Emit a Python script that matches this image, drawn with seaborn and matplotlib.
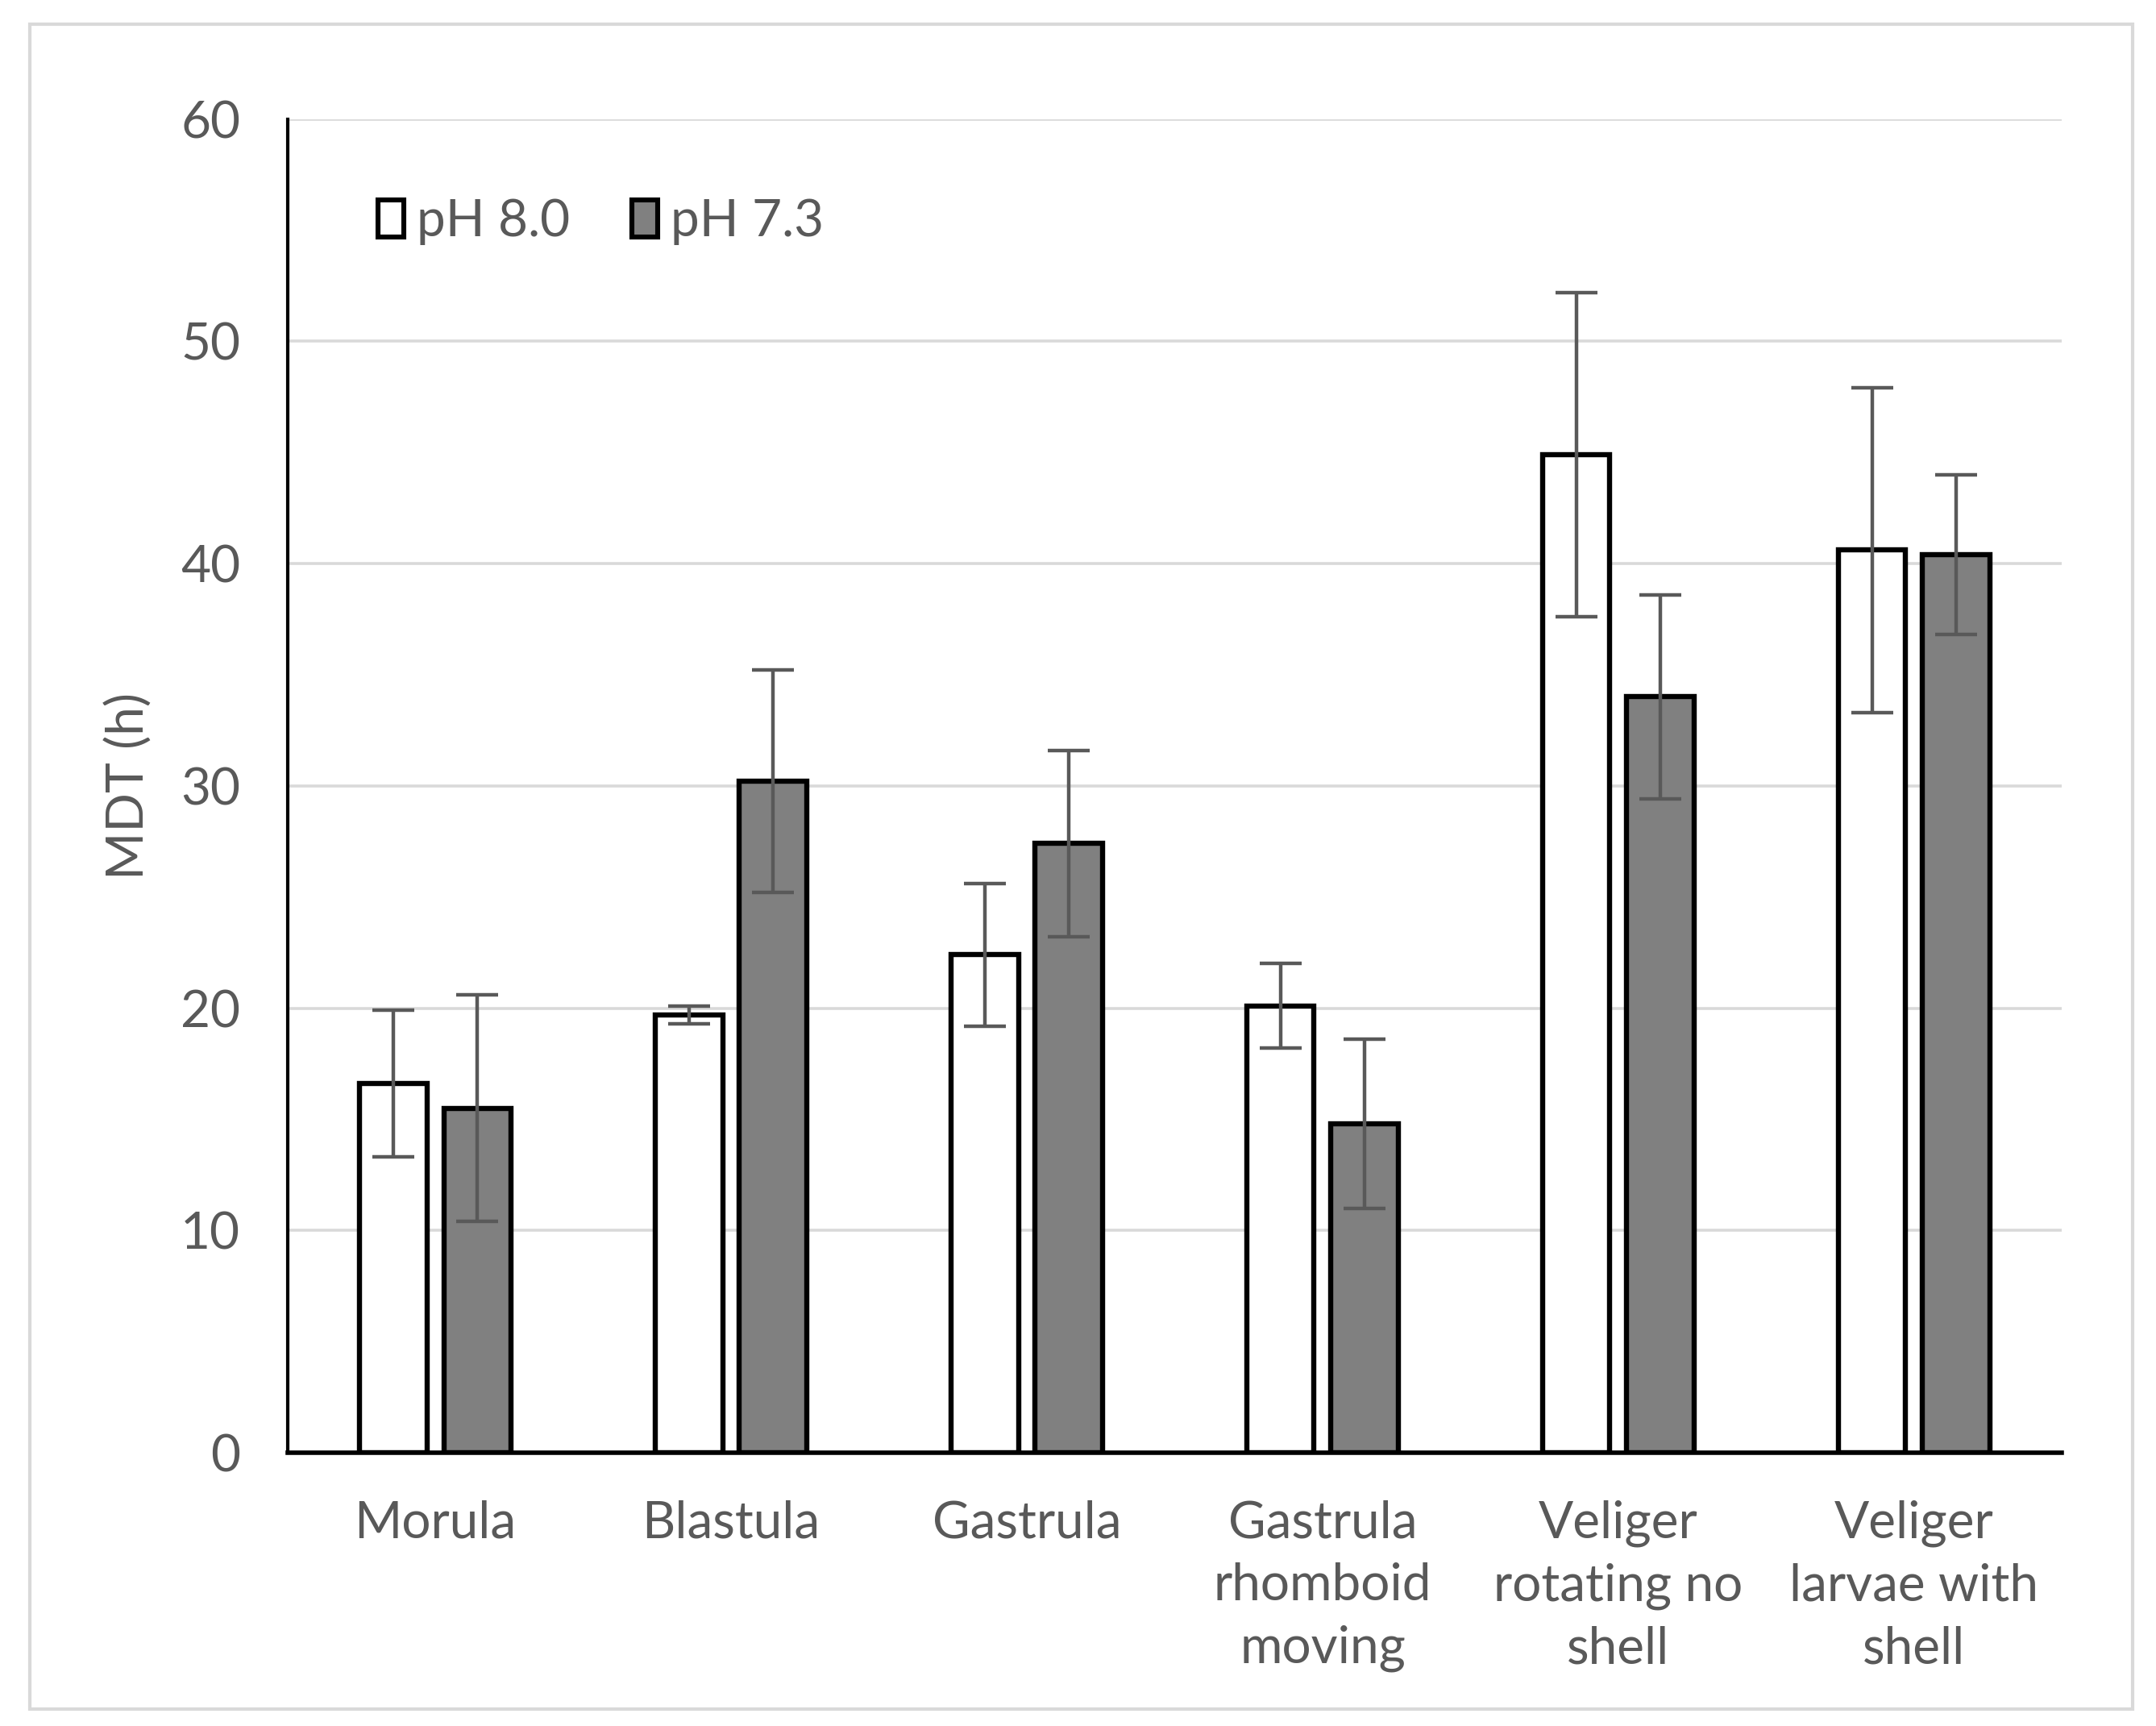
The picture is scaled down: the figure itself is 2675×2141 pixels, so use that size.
import matplotlib.pyplot as plt
import pandas as pd
import seaborn as sns
from matplotlib.patches import Rectangle

stages = [
    "Morula",
    "Blastula",
    "Gastrula",
    "Gastrula\nrhomboid\nmoving",
    "Veliger\nrotating no\nshell",
    "Veliger\nlarvae with\nshell",
]
groups = ["pH 8.0", "pH 7.3"]
mdt_ph80 = [16.6, 19.7, 22.4, 20.1, 44.9, 40.6]
mdt_ph73 = [15.5, 30.2, 27.4, 14.8, 34.0, 40.4]
err_ph80 = [3.3, 0.4, 3.2, 1.9, 7.3, 7.3]
err_ph73 = [5.1, 5.0, 4.2, 3.8, 4.6, 3.6]

df = pd.DataFrame({
    "stage": stages * 2,
    "group": [groups[0]] * 6 + [groups[1]] * 6,
    "mdt": mdt_ph80 + mdt_ph73,
    "err": err_ph80 + err_ph73,
})

sns.set_theme(style="white")
plt.rcParams["font.family"] = ["Lato", "DejaVu Sans"]
text_col = "#595959"
fs = 46

fig = plt.figure(figsize=(26.75, 21.41), dpi=100)
ax = fig.add_axes([0.1333, 0.1583, 0.8231, 0.7728])

sns.barplot(
    data=df, x="stage", y="mdt", hue="group", order=stages, hue_order=groups,
    palette={"pH 8.0": "white", "pH 7.3": "#808080"},
    edgecolor="black", linewidth=4.6, width=0.57, gap=0.2,
    errorbar=None, ax=ax,
)

# error bars at the centres of the drawn bars
bars = ax.patches[:12]
for bar, (_, row) in zip(bars, df.iterrows()):
    xc = bar.get_x() + bar.get_width() / 2
    ax.errorbar(xc, row["mdt"], yerr=row["err"], fmt="none",
                ecolor="#595959", elinewidth=3.2, capsize=19, capthick=3.2,
                zorder=5)

ax.set_ylim(0, 60)
ax.set_xlim(-0.5, 5.5)
ax.set_yticks(range(0, 61, 10))
ax.yaxis.grid(True, color="#d9d9d9", linewidth=2.6)
ax.set_axisbelow(True)
ax.tick_params(axis="both", length=0, labelsize=fs, labelcolor=text_col)
ax.tick_params(axis="x", pad=42)
ax.tick_params(axis="y", pad=42)
for lab in ax.get_xticklabels():
    lab.set_linespacing(1.42)
    lab.set_verticalalignment("top")

ax.set_xlabel("")
ax.set_ylabel("MDT (h)", fontsize=fs, color=text_col, labelpad=25)

for side in ["top", "right"]:
    ax.spines[side].set_visible(False)
ax.spines["left"].set_color("black")
ax.spines["left"].set_linewidth(3.0)
ax.spines["bottom"].set_color("black")
ax.spines["bottom"].set_linewidth(4.0)

leg = ax.legend(
    loc="upper left", bbox_to_anchor=(0.025, 0.975), ncol=2, frameon=False,
    fontsize=fs, handlelength=0.5, handleheight=0.75, handletextpad=0.25,
    columnspacing=1.2, labelcolor=text_col,
)
for h in leg.legend_handles:
    h.set_linewidth(4.4)

# light outer frame around the whole chart
fig.patches.append(Rectangle((0.014, 0.0096), 0.975, 0.9764, transform=fig.transFigure,
                             fill=False, edgecolor="#d9d9d9", linewidth=3.0))

fig.savefig("out.png", dpi=100, facecolor="white")
